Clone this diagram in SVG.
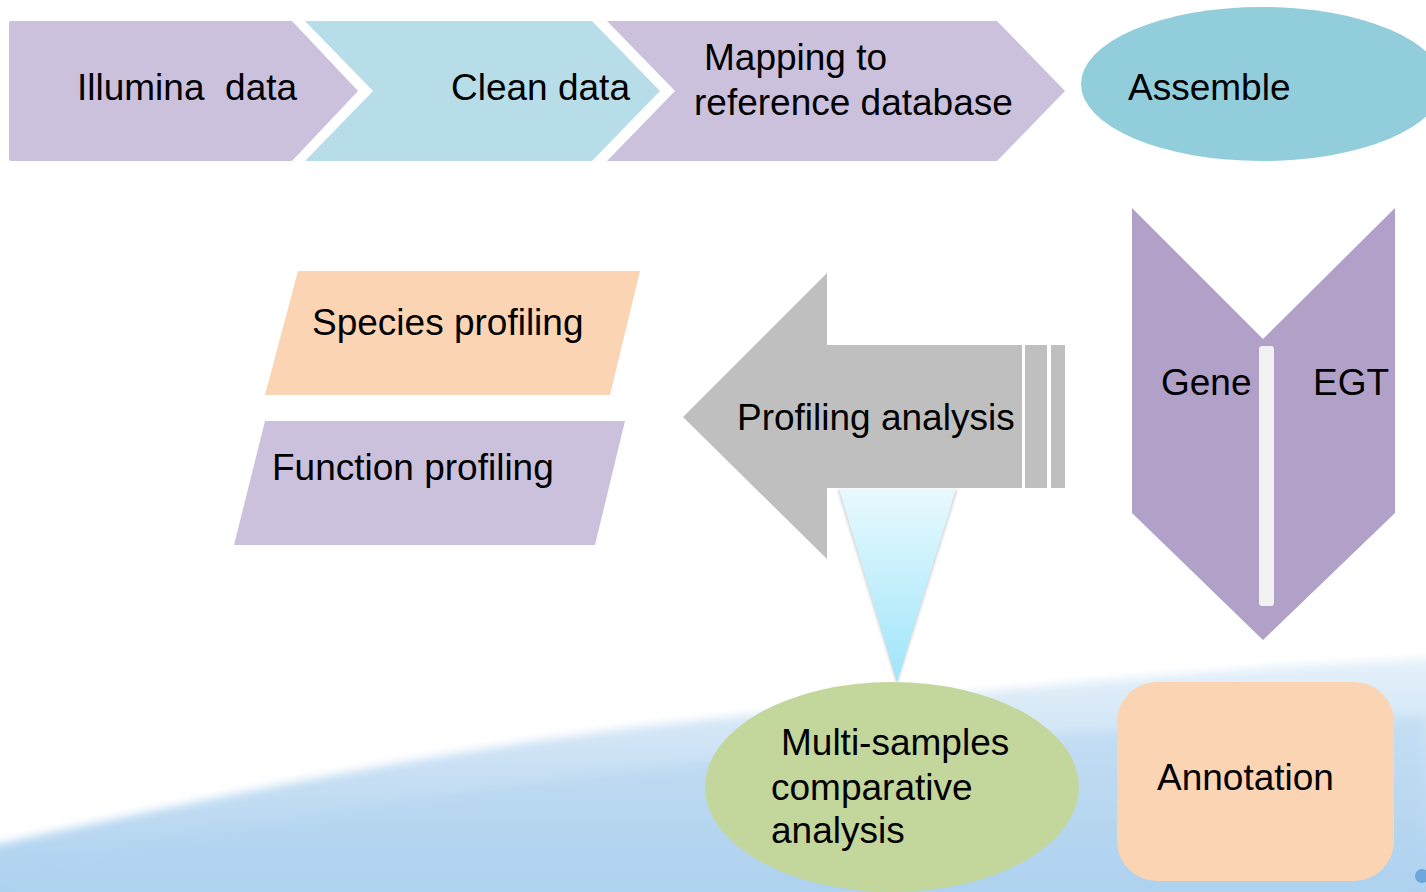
<svg xmlns="http://www.w3.org/2000/svg" width="1426" height="892" viewBox="0 0 1426 892">
<defs>
<style>
.t{font-family:"Liberation Sans",Arial,sans-serif;font-size:37px;fill:#000}
.purple{fill:#CBC1DC}
.blue{fill:#B7DEE8}
.peach{fill:#FBD4B4}
</style>
<linearGradient id="bg" x1="0" y1="0" x2="0" y2="1">
<stop offset="0" stop-color="#E6F1FA"/>
<stop offset="0.45" stop-color="#C9E0F4"/>
<stop offset="1" stop-color="#A8CFEE"/>
</linearGradient>
<linearGradient id="funnel" x1="0" y1="0" x2="0" y2="1">
<stop offset="0" stop-color="#E8F9FE"/>
<stop offset="1" stop-color="#9FE5FA"/>
</linearGradient>
<filter id="soft" x="-5%" y="-20%" width="110%" height="140%">
<feGaussianBlur stdDeviation="5"/>
</filter>
<filter id="sh" x="-20%" y="-10%" width="140%" height="120%">
<feGaussianBlur stdDeviation="1.5"/>
</filter>
</defs>
<rect width="1426" height="892" fill="#FFFFFF"/>
<g id="background">
<path d="M-20,848 C200,800 450,745 730,717 C1000,690 1200,668 1446,658 L1446,900 L-20,900 Z" fill="url(#bg)" filter="url(#soft)"/>
<path d="M0,892 L0,872 C300,810 600,768 900,745 C1150,728 1300,720 1426,716 L1426,892 Z" fill="#B2D4F0" opacity="0.45" filter="url(#soft)"/>
<circle cx="1422" cy="876" r="7" fill="#5C9BD6" opacity="0.8"/>
</g>
<g id="connectors"></g>
<g id="illumina">
<path class="purple" d="M11,21 L292,21 L358,91 L292,161 L11,161 Q9,161 9,159 L9,23 Q9,21 11,21 Z"/>
<text class="t" x="77" y="100" xml:space="preserve">Illumina  data</text>
</g>
<g id="clean">
<path class="blue" d="M305,21 L592,21 L660,91 L592,161 L305,161 L373,91 Z"/>
<text class="t" x="451" y="100">Clean data</text>
</g>
<g id="mapping">
<path class="purple" d="M607,21 L997,21 L1065,91 L997,161 L607,161 L675,91 Z"/>
<text class="t" x="704" y="70">Mapping to</text>
<text class="t" x="694" y="115">reference database</text>
</g>
<g id="assemble">
<ellipse cx="1262" cy="84" rx="181" ry="77" fill="#92CDDC"/>
<text class="t" x="1128" y="100">Assemble</text>
</g>
<g id="gene-egt">
<path d="M1132,208 L1263,339 L1395,208 L1395,513 L1263,640 L1132,513 Z" fill="#B1A0C7"/>
<rect x="1259" y="346" width="15" height="260" rx="3" fill="#F2F2F2"/>
<text class="t" x="1161" y="395">Gene</text>
<text class="t" x="1313" y="395">EGT</text>
</g>
<g id="profiling">
<path d="M683,417 L827,273 L827,345 L1022,345 L1022,488 L827,488 L827,559 Z" fill="#BFBFBF"/>
<rect x="1025" y="345" width="22" height="143" fill="#BFBFBF"/>
<rect x="1051" y="345" width="14" height="143" fill="#BFBFBF"/>
<text class="t" x="737" y="430">Profiling analysis</text>
</g>
<g id="funnel">
<path d="M838,490 L957,490 L897,684 Z" fill="#9A9A9A" opacity="0.5" filter="url(#sh)"/>
<path d="M839,489 L956,489 L897,682 Z" fill="url(#funnel)"/>
</g>
<g id="species">
<path class="peach" d="M298,271 L640,271 L610,395 L265,395 Z"/>
<text class="t" x="312" y="335">Species profiling</text>
</g>
<g id="function">
<path class="purple" d="M265,421 L625,421 L595,545 L234,545 Z"/>
<text class="t" x="272" y="480">Function profiling</text>
</g>
<g id="multi">
<ellipse cx="892" cy="787" rx="187" ry="105" fill="#C3D69B"/>
<text class="t" x="781" y="755">Multi-samples</text>
<text class="t" x="771" y="800">comparative</text>
<text class="t" x="771" y="843">analysis</text>
</g>
<g id="annotation">
<rect x="1117" y="682" width="277" height="199" rx="40" class="peach"/>
<text class="t" x="1157" y="790">Annotation</text>
</g>
</svg>
